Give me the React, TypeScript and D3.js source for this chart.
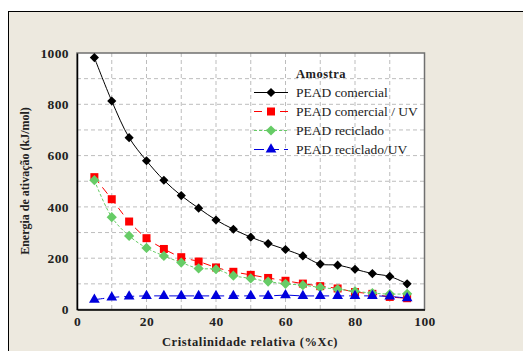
import * as d3 from "d3";
import { useEffect, useRef } from "react";

const xValues = [5, 10, 15, 20, 25, 30, 35, 40, 45, 50, 55, 60, 65, 70, 75, 80, 85, 90, 95];
const comercial = [982, 813, 670, 580, 504, 444, 395, 349, 313, 282, 257, 234, 209, 177, 173, 157, 140, 129, 100];
const comercialUV = [516, 430, 343, 278, 236, 204, 187, 164, 147, 135, 123, 112, 101, 91, 82, 68, 61, 49, 44];
const reciclado = [504, 360, 287, 240, 209, 183, 160, 157, 132, 121, 109, 100, 95, 86, 79, 71, 64, 60, 61];
const recicladoUV = [38, 47, 51, 53, 53, 53, 53, 53, 53, 53, 53, 56, 53, 53, 53, 53, 53, 51, 44];
const xTicks = [0, 20, 40, 60, 80, 100];
const yTicks = [0, 200, 400, 600, 800, 1000];

type Marker = "diamond" | "square" | "triangle";

const series: { name: string; values: number[]; color: string; dash: string; marker: Marker; size: number }[] = [
	{ name: "PEAD comercial", values: comercial, color: "#000000", dash: "", marker: "diamond", size: 42 },
	{ name: "PEAD comercial / UV", values: comercialUV, color: "#ff0000", dash: "8,5", marker: "square", size: 64 },
	{ name: "PEAD reciclado", values: reciclado, color: "#66cc66", dash: "3,2", marker: "diamond", size: 52 },
	{ name: "PEAD reciclado/UV", values: recicladoUV, color: "#0000dd", dash: "10,5", marker: "triangle", size: 50 },
];

const symbolFor = (m: Marker) => (m === "triangle" ? d3.symbolTriangle : d3.symbolSquare);

const App = () => {
	const svgRef = useRef<SVGSVGElement>(null);

	useEffect(() => {
		if (!svgRef.current) return;
		const width = 523;
		const height = 351;
		const svg = d3.select(svgRef.current);
		svg.selectAll("*").remove();

		const serif = "'Liberation Serif', 'Times New Roman', serif";

		// fond et cadre
		svg.append("rect").attr("width", width).attr("height", height).attr("fill", "#ffffff");
		svg
			.append("rect")
			.attr("x", 8.5)
			.attr("y", 11.5)
			.attr("width", width + 10)
			.attr("height", height)
			.attr("fill", "#ede9df")
			.attr("stroke", "#000")
			.attr("stroke-width", 1);

		const left = 77;
		const right = 424.5;
		const top = 53;
		const bottom = 309.5;

		const x = d3.scaleLinear().domain([0, 100]).range([left, right]);
		const y = d3.scaleLinear().domain([0, 1000]).range([bottom, top]);

		svg
			.append("rect")
			.attr("x", left)
			.attr("y", top)
			.attr("width", right - left)
			.attr("height", bottom - top)
			.attr("fill", "#ffffff");

		// grille
		const grid = svg.append("g").attr("stroke", "#bdbdbd").attr("stroke-width", 1).attr("stroke-dasharray", "4,3");
		d3.range(10, 100, 10).forEach((v) => {
			grid.append("line").attr("x1", x(v)).attr("x2", x(v)).attr("y1", top).attr("y2", bottom);
		});
		d3.range(100, 1000, 100).forEach((v) => {
			grid.append("line").attr("x1", left).attr("x2", right).attr("y1", y(v)).attr("y2", y(v));
		});

		// bordure
		svg
			.append("rect")
			.attr("x", left)
			.attr("y", top)
			.attr("width", right - left)
			.attr("height", bottom - top)
			.attr("fill", "none")
			.attr("stroke", "#707070")
			.attr("stroke-width", 1.5);

		const styleTicks = (g: d3.Selection<SVGGElement, unknown, null, undefined>) => {
			g.select(".domain").attr("stroke", "#000").attr("stroke-width", 1.5);
			g.selectAll("text")
				.attr("font-family", serif)
				.attr("font-weight", "bold")
				.attr("font-size", "13.5px")
				.attr("letter-spacing", "0.4px")
				.attr("fill", "#222");
		};

		const xAxis = svg
			.append("g")
			.attr("transform", `translate(0,${bottom})`)
			.call(d3.axisBottom(x).tickValues(xTicks).tickFormat(d3.format("d")).tickSize(0).tickPadding(7));
		styleTicks(xAxis);

		const yAxis = svg
			.append("g")
			.attr("transform", `translate(${left},0)`)
			.call(d3.axisLeft(y).tickValues(yTicks).tickFormat(d3.format("d")).tickSize(0).tickPadding(8));
		styleTicks(yAxis);

		// courbes
		const line = d3
			.line<number>()
			.x((_, i) => x(xValues[i]))
			.y((d) => y(d))
			.curve(d3.curveCatmullRom.alpha(0.5));

		series.forEach((s) => {
			svg
				.append("path")
				.attr("d", line(s.values))
				.attr("fill", "none")
				.attr("stroke", s.color)
				.attr("stroke-width", 1)
				.attr("stroke-dasharray", s.dash);
		});

		series.forEach((s) => {
			const sym = d3.symbol().type(symbolFor(s.marker)).size(s.size);
			svg
				.append("g")
				.selectAll("path")
				.data(s.values)
				.enter()
				.append("path")
				.attr("d", sym)
				.attr(
					"transform",
					(d, i) => `translate(${x(xValues[i])},${y(d)})${s.marker === "diamond" ? " rotate(45)" : ""}`,
				)
				.attr("fill", s.color);
		});

		// légende
		const legend = svg.append("g");
		legend
			.append("text")
			.attr("x", 296)
			.attr("y", 78)
			.attr("font-family", serif)
			.attr("font-weight", "bold")
			.attr("font-size", "12.5px")
			.attr("letter-spacing", "0.5px")
			.attr("fill", "#222")
			.text("Amostra");

		series.forEach((s, i) => {
			const ly = 92.5 + i * 19;
			legend
				.append("line")
				.attr("x1", 254)
				.attr("x2", 288)
				.attr("y1", ly)
				.attr("y2", ly)
				.attr("stroke", s.color)
				.attr("stroke-width", 1)
				.attr("stroke-dasharray", s.dash);
			legend
				.append("path")
				.attr("d", d3.symbol().type(symbolFor(s.marker)).size(s.size)())
				.attr("transform", `translate(271,${ly})${s.marker === "diamond" ? " rotate(45)" : ""}`)
				.attr("fill", s.color);
			legend
				.append("text")
				.attr("x", 296)
				.attr("y", ly + 4.5)
				.attr("font-family", serif)
				.attr("font-size", "13.5px")
				.attr("fill", "#222")
				.text(s.name);
		});

		// titres des axes
		svg
			.append("text")
			.attr("x", 250)
			.attr("y", 346)
			.attr("text-anchor", "middle")
			.attr("font-family", serif)
			.attr("font-weight", "bold")
			.attr("font-size", "12.5px")
			.attr("letter-spacing", "0.6px")
			.attr("fill", "#222")
			.text("Cristalinidade relativa (%Xc)");

		svg
			.append("text")
			.attr("transform", `translate(29,181) rotate(-90)`)
			.attr("text-anchor", "middle")
			.attr("font-family", serif)
			.attr("font-weight", "bold")
			.attr("font-size", "12px")
			.attr("fill", "#222")
			.text("Energia de ativação (kJ/mol)");
	}, []);

	return (
		<svg
			ref={svgRef}
			width={523}
			height={351}
			style={{ position: "absolute", left: 0, top: 0, display: "block" }}
		></svg>
	);
};

export default App;
